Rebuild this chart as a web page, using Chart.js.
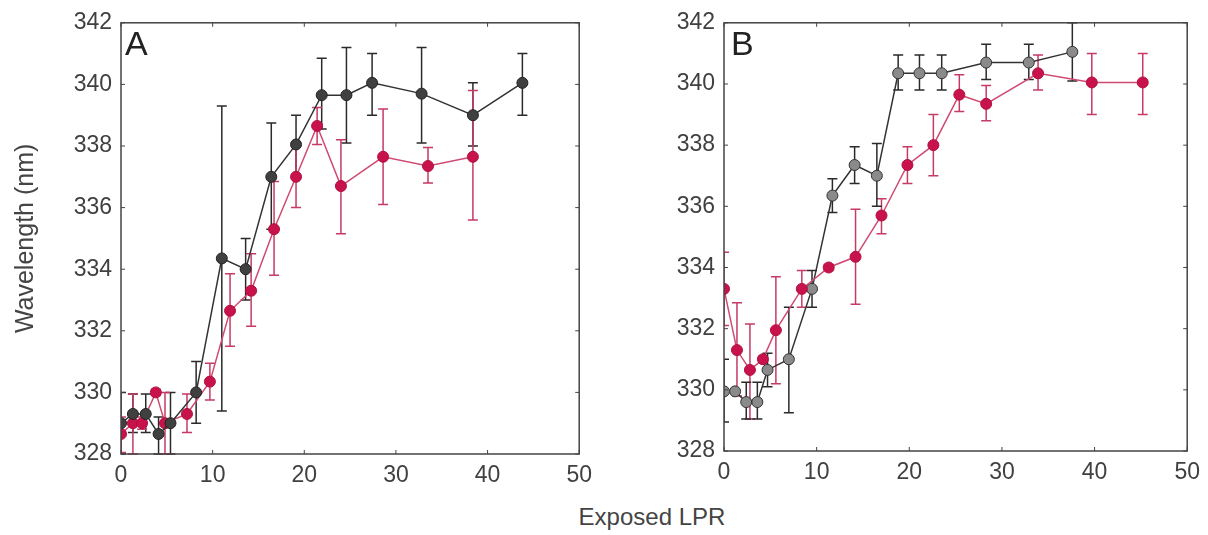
<!DOCTYPE html>
<html>
<head>
<meta charset="utf-8">
<script src="https://cdn.jsdelivr.net/npm/chart.js@4.4.0/dist/chart.umd.min.js"></script>
<style>
  body { margin: 0; background: #fff; width: 1208px; height: 535px; position: relative; overflow: hidden; }
  canvas { position: absolute; top: 0; }
  #xtitle { position: absolute; left: 0; width: 1304px; top: 503px; text-align: center;
            font: 24px "Liberation Sans", Arial, sans-serif; color: #444; }
</style>
</head>
<body>
<canvas id="chartA" width="600" height="490" style="left:0"></canvas>
<canvas id="chartB" width="608" height="490" style="left:600px"></canvas>
<div id="xtitle">Exposed LPR</div>
<script>
// panel A, dark series
const aBlackX  = [0, 1.3, 2.7, 4.1, 5.4, 8.2, 11.0, 13.6, 16.4, 19.1, 21.9, 24.6, 27.4, 32.8, 38.4, 43.8];
const aBlackY  = [329.0, 329.3, 329.3, 328.65, 329.0, 330.0, 334.35, 334.0, 337.0, 338.05, 339.65, 339.65, 340.05, 339.7, 339.0, 340.05];
const aBlackLo = [328.0, 328.7, 328.7, 328.0, 328.0, 329.0, 329.4, 333.0, 335.3, 337.05, 338.55, 338.1, 339.0, 338.1, 338.0, 339.0];
const aBlackHi = [330.0, 329.95, 329.95, 329.2, 330.0, 331.0, 339.3, 335.0, 338.75, 339.0, 340.85, 341.2, 341.0, 341.2, 340.05, 341.0];
// panel A, red series
const aRedX  = [0, 1.3, 2.3, 3.8, 4.8, 7.2, 9.7, 11.9, 14.2, 16.7, 19.1, 21.4, 24.0, 28.6, 33.5, 38.4];
const aRedY  = [328.65, 329.0, 329.0, 330.0, 329.0, 329.3, 330.35, 332.65, 333.3, 335.3, 337.0, 338.65, 336.7, 337.65, 337.35, 337.65];
const aRedLo = [328.05, 328.0, 328.8, 329.9, 328.0, 328.7, 329.75, 331.5, 332.15, 333.8, 336.0, 338.05, 335.15, 336.1, 336.8, 335.6];
const aRedHi = [329.2, 329.95, 329.2, 330.1, 330.0, 329.95, 330.95, 333.85, 334.5, 336.85, 338.05, 339.25, 338.2, 339.2, 337.95, 339.8];
// panel B, grey series
const bGreyX  = [0, 1.2, 2.4, 3.6, 4.7, 7.0, 9.5, 11.7, 14.1, 16.5, 18.8, 21.1, 23.5, 28.3, 32.9, 37.6];
const bGreyY  = [329.95, 329.95, 329.6, 329.6, 330.65, 331.0, 333.3, 336.35, 337.35, 337.0, 340.35, 340.35, 340.35, 340.7, 340.7, 341.05];
const bGreyLo = [328.95, 329.9, 329.05, 329.05, 330.1, 329.25, 332.7, 335.8, 336.75, 336.0, 339.8, 339.8, 339.8, 340.15, 340.15, 340.1];
const bGreyHi = [331.0, 330.0, 330.25, 330.25, 331.2, 332.7, 333.9, 336.9, 337.95, 338.05, 340.95, 340.95, 340.95, 341.3, 341.3, 342.0];
// panel B, red series
const bRedX  = [0, 1.4, 2.8, 4.2, 5.6, 8.4, 11.3, 14.2, 17.0, 19.8, 22.6, 25.4, 28.3, 33.9, 39.7, 45.2];
const bRedY  = [333.3, 331.3, 330.65, 331.0, 331.95, 333.3, 334.0, 334.35, 335.7, 337.35, 338.0, 339.65, 339.35, 340.35, 340.05, 340.05];
const bRedLo = [332.1, 329.8, 329.05, 330.9, 330.2, 332.7, 333.9, 332.8, 335.1, 336.75, 337.0, 339.1, 338.8, 339.8, 339.0, 339.0];
const bRedHi = [334.5, 332.85, 332.15, 331.1, 333.7, 333.9, 334.1, 335.9, 336.25, 337.95, 339.0, 340.3, 339.95, 340.95, 341.0, 341.0];

const xTicks = [0, 10, 20, 30, 40, 50];
const yTicks = [328, 330, 332, 334, 336, 338, 340, 342];

const FONT = '"Liberation Sans", Arial, sans-serif';
const RED = '#c8124c';

function pts(xs, ys) { return xs.map((x, i) => ({ x: x, y: ys[i] })); }

// error bars, drawn under the markers
const errorBars = {
  id: 'errorBars',
  beforeDatasetsDraw(chart) {
    const ctx = chart.ctx, a = chart.chartArea;
    const xs = chart.scales.x, ys = chart.scales.y;
    ctx.save();
    ctx.beginPath();
    ctx.rect(a.left, a.top - 1, a.right - a.left, a.bottom - a.top + 2);
    ctx.clip();
    chart.data.datasets.forEach(ds => {
      ctx.strokeStyle = ds.errColor;
      ctx.lineWidth = 1.5;
      ds.data.forEach((p, i) => {
        const px = xs.getPixelForValue(p.x);
        const lo = ys.getPixelForValue(ds.errLo[i]);
        const hi = ys.getPixelForValue(ds.errHi[i]);
        ctx.beginPath();
        ctx.moveTo(px, lo); ctx.lineTo(px, hi);
        ctx.moveTo(px - 5, lo); ctx.lineTo(px + 5, lo);
        ctx.moveTo(px - 5, hi); ctx.lineTo(px + 5, hi);
        ctx.stroke();
      });
    });
    ctx.restore();
  }
};

// box round the plot, inward ticks, panel letter
const frame = {
  id: 'frame',
  afterDraw(chart, args, opts) {
    const ctx = chart.ctx, a = chart.chartArea;
    ctx.save();
    ctx.strokeStyle = '#444';
    ctx.lineWidth = 1.5;
    ctx.strokeRect(a.left, a.top, a.right - a.left, a.bottom - a.top);
    ctx.lineWidth = 1;
    ctx.beginPath();
    chart.scales.x.ticks.forEach(t => {
      const px = chart.scales.x.getPixelForValue(t.value);
      ctx.moveTo(px, a.bottom); ctx.lineTo(px, a.bottom - 4);
      ctx.moveTo(px, a.top); ctx.lineTo(px, a.top + 4);
    });
    chart.scales.y.ticks.forEach(t => {
      const py = chart.scales.y.getPixelForValue(t.value);
      ctx.moveTo(a.left, py); ctx.lineTo(a.left + 4, py);
      ctx.moveTo(a.right, py); ctx.lineTo(a.right - 4, py);
    });
    ctx.stroke();
    ctx.fillStyle = '#222';
    ctx.font = '34px ' + FONT;
    ctx.textBaseline = 'top';
    ctx.fillText(opts.letter, a.left + opts.dx, a.top + 6);
    ctx.restore();
  }
};

function makePanel(id, letter, dx, sets, box) {
  return new Chart(document.getElementById(id), {
    type: 'scatter',
    data: {
      datasets: sets.map(s => ({
        data: pts(s.x, s.y),
        errLo: s.lo, errHi: s.hi, errColor: s.err,
        showLine: true,
        borderColor: s.line,
        borderWidth: 1.5,
        pointRadius: 5.5,
        pointBackgroundColor: s.fill,
        pointBorderColor: s.edge,
        pointBorderWidth: 1
      }))
    },
    options: {
      responsive: false,
      animation: false,
      layout: { padding: { top: box.top, right: box.right, left: 0, bottom: 0 } },
      plugins: { legend: { display: false }, tooltip: { enabled: false }, frame: { letter: letter, dx: dx } },
      scales: {
        x: {
          type: 'linear', min: 0, max: 50,
          afterBuildTicks: s => { s.ticks = xTicks.map(v => ({ value: v })); },
          afterFit: s => { s.height = box.xh; },
          grid: { display: false, drawTicks: false },
          border: { display: false },
          ticks: { color: '#404040', font: { family: FONT, size: 23 }, padding: 8, maxRotation: 0 }
        },
        y: {
          min: 328, max: 342,
          afterBuildTicks: s => { s.ticks = yTicks.map(v => ({ value: v })); },
          afterFit: s => { s.width = box.yw; },
          grid: { display: false, drawTicks: false },
          border: { display: false },
          ticks: { color: '#404040', font: { family: FONT, size: 23 }, padding: 9 },
          title: {
            display: box.title, text: 'Wavelength (nm)', color: '#444',
            font: { family: FONT, size: 25 }, padding: { top: 11, bottom: 0 }
          }
        }
      }
    },
    plugins: [errorBars, frame]
  });
}

makePanel('chartA', 'A', 4, [
  { x: aBlackX, y: aBlackY, lo: aBlackLo, hi: aBlackHi, line: '#333', fill: '#404040', edge: '#222', err: '#2a2a2a' },
  { x: aRedX, y: aRedY, lo: aRedLo, hi: aRedHi, line: '#d04a72', fill: RED, edge: '#b01040', err: '#c63a64' }
], { top: 22, right: 19, yw: 121, xh: 36, title: true });

makePanel('chartB', 'B', 7, [
  { x: bRedX, y: bRedY, lo: bRedLo, hi: bRedHi, line: '#d04a72', fill: RED, edge: '#b01040', err: '#c63a64' },
  { x: bGreyX, y: bGreyY, lo: bGreyLo, hi: bGreyHi, line: '#333', fill: '#8a8a8a', edge: '#333', err: '#2a2a2a' }
], { top: 21, right: 20, yw: 124, xh: 39, title: false });
</script>
</body>
</html>
